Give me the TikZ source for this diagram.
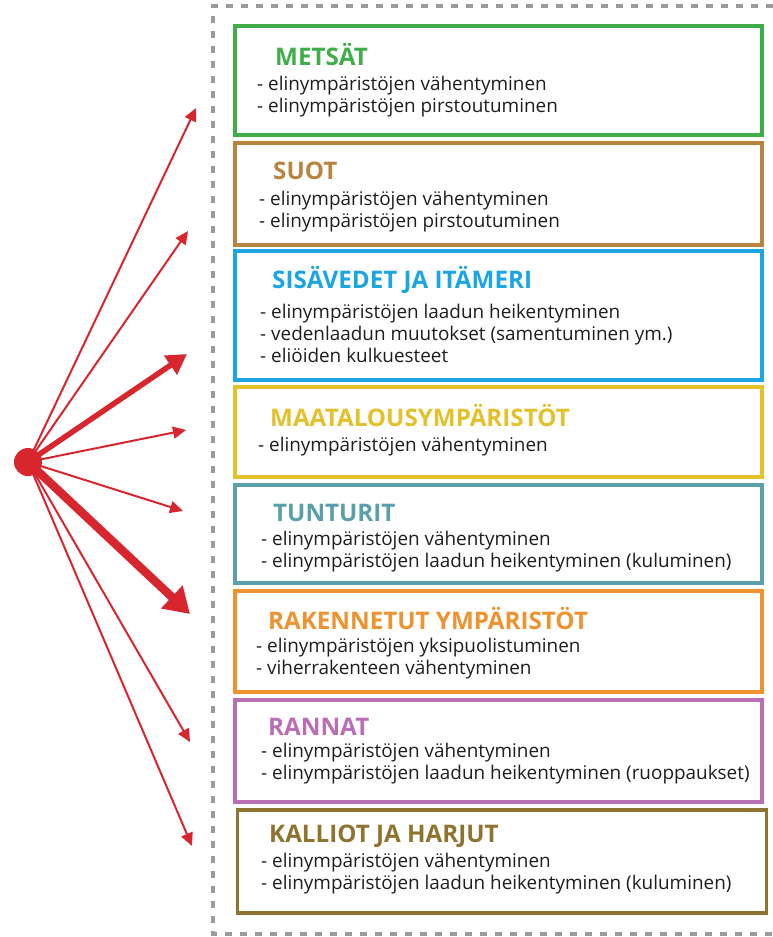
\documentclass[tikz,border=0pt]{standalone}
\usepackage{fontspec}
\setmainfont{Open Sans}
\usetikzlibrary{arrows.meta}
\definecolor{cred}{HTML}{D7262E}
\definecolor{cgreen}{HTML}{3FAE49}
\definecolor{cbrown}{HTML}{B8843F}
\definecolor{cblue}{HTML}{1BA6E3}
\definecolor{cyellow}{HTML}{E4C12B}
\definecolor{cteal}{HTML}{5A9FAA}
\definecolor{corange}{HTML}{EF9230}
\definecolor{cpurple}{HTML}{B96EB5}
\definecolor{cgold}{HTML}{8F7430}
\definecolor{cgray}{HTML}{9B9B9B}
\definecolor{ctext}{HTML}{1E1E1E}
\begin{document}
\begin{tikzpicture}[x=1pt,y=-1pt,
  box/.style={draw=#1, line width=3.5pt, minimum width=527pt, inner sep=0pt, fill=white},
  ttl/.style={anchor=west, inner sep=0pt, text=#1, font=\fontsize{24.2}{28}\selectfont\bfseries},
  body/.style={anchor=west, inner sep=0pt, text=ctext, font=\fontsize{18.9}{22}\selectfont, align=left},
  arr/.style={draw=cred, line width=2pt, -{Triangle[length=13pt,width=12pt]}},
  arrb/.style={draw=cred, line width=5.5pt, -{Triangle[length=20pt,width=22pt]}},
  arrc/.style={draw=cred, line width=8.5pt, -{Triangle[length=25pt,width=30pt]}},
  border/.style={draw=cgray, line width=4pt, dash pattern=on 7pt off 8pt}]
\useasboundingbox (0,0) rectangle (773,937);
% dashed frame
\coordinate (fa) at (773,6);
\coordinate (fb) at (213,6);
\coordinate (fc) at (213,934);
\coordinate (fd) at (773,934);
\draw[border] (fa) -- (fb) -- (fc) -- (fd);
% boxes
\node[box=cgreen, minimum height=109pt] (b1) at (498.5,80.5) {};
\node[box=cbrown, minimum height=102pt] (b2) at (498.5,194) {};
\node[box=cblue, minimum height=129pt] (b3) at (498.5,315.5) {};
\node[box=cyellow, minimum height=90pt] (b4) at (498.5,432) {};
\node[box=cteal, minimum height=98pt] (b5) at (498.5,534) {};
\node[box=corange, minimum height=101pt] (b6) at (498.5,641.5) {};
\node[box=cpurple, minimum height=102pt] (b7) at (498.5,751) {};
\node[box=cgold, minimum height=103pt, minimum width=529pt] (b8) at (502,861.5) {};
% titles
\node[ttl=cgreen] (t1) at (275,55) {METSÄT};
\node[ttl=cbrown] (t2) at (273,171) {SUOT};
\node[ttl=cblue] (t3) at (272,280) {SISÄVEDET JA ITÄMERI};
\node[ttl=cyellow] (t4) at (270,416) {MAATALOUSYMPÄRISTÖT};
\node[ttl=cteal] (t5) at (273,513) {TUNTURIT};
\node[ttl=corange] (t6) at (268,619) {RAKENNETUT YMPÄRISTÖT};
\node[ttl=cpurple] (t7) at (268,727) {RANNAT};
\node[ttl=cgold] (t8) at (269,836) {KALLIOT JA HARJUT};
% bodies
\node[body] (x1) at (257,97) {- elinympäristöjen vähentyminen\\- elinympäristöjen pirstoutuminen};
\node[body] (x2) at (259,212) {- elinympäristöjen vähentyminen\\- elinympäristöjen pirstoutuminen};
\node[body] (x3) at (260,333) {- elinympäristöjen laadun heikentyminen\\- vedenlaadun muutokset (samentuminen ym.)\\- eliöiden kulkuesteet};
\node[body] (x4) at (258,447) {- elinympäristöjen vähentyminen};
\node[body] (x5) at (261,552) {- elinympäristöjen vähentyminen\\- elinympäristöjen laadun heikentyminen (kuluminen)};
\node[body] (x6) at (256,659) {- elinympäristöjen yksipuolistuminen\\- viherrakenteen vähentyminen};
\node[body] (x7) at (261,764) {- elinympäristöjen vähentyminen\\- elinympäristöjen laadun heikentyminen (ruoppaukset)};
\node[body] (x8) at (261,873.5) {- elinympäristöjen vähentyminen\\- elinympäristöjen laadun heikentyminen (kuluminen)};
% arrows
\node[circle, fill=cred, minimum size=28pt, inner sep=0pt] (dot) at (28,462) {};
\coordinate (e1) at (196,108);
\coordinate (e2) at (188,231);
\coordinate (e3) at (187,354);
\coordinate (e4) at (186,430);
\coordinate (e5) at (183,511);
\coordinate (e6) at (190,614);
\coordinate (e7) at (190,742);
\coordinate (e8) at (192,846);
\draw[arr] (dot.center) -- (e1);
\draw[arr] (dot.center) -- (e2);
\draw[arrb] (dot.center) -- (e3);
\draw[arr] (dot.center) -- (e4);
\draw[arr] (dot.center) -- (e5);
\draw[arrc] (dot.center) -- (e6);
\draw[arr] (dot.center) -- (e7);
\draw[arr] (dot.center) -- (e8);
\end{tikzpicture}
\end{document}
